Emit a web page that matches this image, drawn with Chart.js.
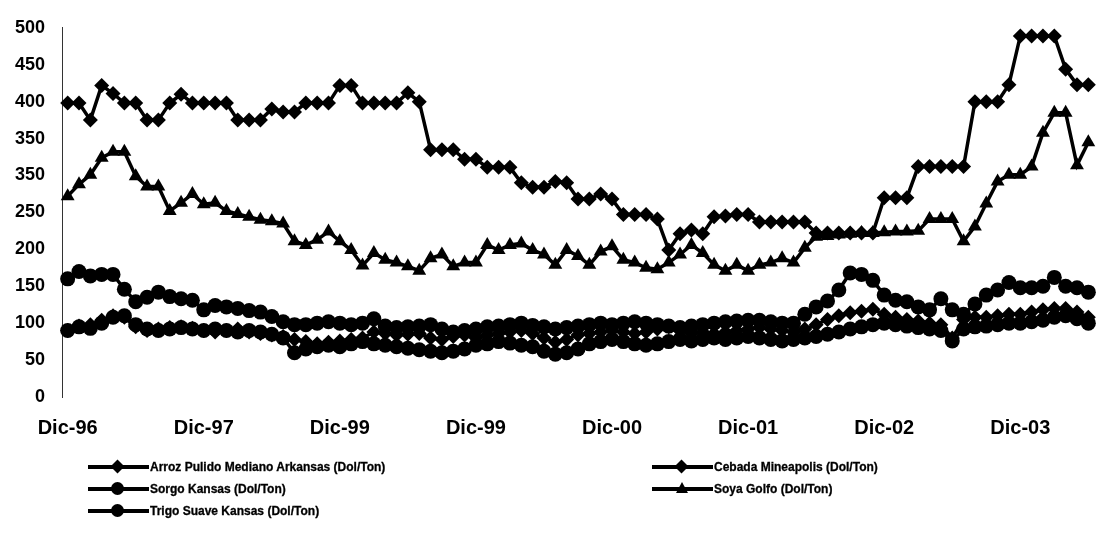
<!DOCTYPE html>
<html>
<head>
<meta charset="utf-8">
<script src="https://cdn.jsdelivr.net/npm/chart.js"></script>
<style>
body { margin: 0; background: #fff; }
.wrap { position: relative; width: 1102px; height: 534px; }
.legend { position: absolute; left: 88px; top: 456px; display: grid; grid-template-columns: 564px 420px;
  font: bold 12px "Liberation Sans", Arial, sans-serif; color: #000; -webkit-text-stroke: 0.3px #000; }
.item { display: flex; align-items: center; height: 22px; white-space: nowrap; }
.sym { position: relative; width: 61px; height: 14px; margin-right: 1px; flex: none; }
.sym .ln { position: absolute; left: 0; right: 0; top: 5px; height: 4px; background: #000; }
.sym .mk { position: absolute; left: 24px; top: 1px; width: 11px; height: 11px; background: #000; }
.mk.rectRot { transform: rotate(45deg) scale(0.9); }
.mk.circle { border-radius: 50%; width: 13px; height: 13px; top: 0; left: 23px; }
.mk.triangle { background: none; width: 0; height: 0; border-left: 6px solid transparent;
  border-right: 6px solid transparent; border-bottom: 11px solid #000; top: 0; }
</style>
</head>
<body>
<div class="wrap">
  <canvas id="grafico"></canvas>
  <div class="legend" id="leyenda"></div>
</div>
<script>
// etiquetas de los ejes
const xTickLabels = ['Dic-96', 'Dic-97', 'Dic-99', 'Dic-99', 'Dic-00', 'Dic-01', 'Dic-02', 'Dic-03'];
const yTickLabels = ['0', '50', '100', '150', '200', '250', '350', '350', '400', '450', '500'];
const meses = ['Ene', 'Feb', 'Mar', 'Abr', 'May', 'Jun', 'Jul', 'Ago', 'Sep', 'Oct', 'Nov', 'Dic'];

// meses de Dic-96 a Jun-04
const months = [];
for (let i = 0; i < 91; i++) {
  const m = (11 + i) % 12;
  const a = (96 + Math.floor((11 + i) / 12)) % 100;
  months.push(meses[m] + '-' + String(a).padStart(2, '0'));
}

// precios (Dol/Ton)
const arroz = [398, 398, 375, 422, 411, 398, 398, 375, 375, 398,
  410, 398, 398, 398, 398, 375, 375, 375, 390, 386,
  386, 398, 398, 398, 422, 422, 398, 398, 398, 398,
  412, 400, 335, 335, 335, 322, 322, 311, 311, 311,
  290, 284, 284, 292, 290, 268, 268, 275, 268, 247,
  247, 247, 241, 199, 221, 226, 221, 244, 245, 247,
  247, 237, 237, 237, 237, 237, 222, 222, 222, 222,
  222, 222, 270, 270, 270, 312, 312, 312, 312, 312,
  400, 400, 400, 423, 489, 489, 489, 489, 444, 423, 423];

const cebada = [90, 96, 98, 104, 110, 108, 95, 90, 92, 94,
  95, 93, 90, 88, 90, 92, 88, 86, 84, 82,
  78, 75, 72, 74, 76, 78, 80, 88, 86, 84,
  85, 86, 80, 78, 82, 84, 80, 84, 86, 88,
  90, 86, 80, 74, 78, 84, 86, 88, 90, 88,
  86, 88, 92, 95, 90, 86, 88, 86, 88, 90,
  92, 94, 92, 90, 88, 92, 98, 105, 110, 114,
  116, 119, 112, 108, 105, 103, 100, 98, 80, 105,
  108, 108, 110, 112, 112, 115, 118, 120, 120, 115, 108];

const sorgo = [90, 95, 93, 100, 108, 110, 98, 92, 90, 92,
  94, 92, 90, 92, 90, 88, 90, 88, 85, 80,
  60, 65, 68, 70, 68, 72, 75, 72, 70, 68,
  66, 64, 62, 60, 62, 65, 70, 72, 75, 73,
  70, 68, 62, 58, 60, 65, 72, 75, 78, 75,
  72, 70, 72, 75, 78, 76, 78, 80, 78, 80,
  82, 80, 78, 76, 78, 80, 82, 85, 88, 92,
  95, 98, 100, 98, 96, 94, 92, 90, 76, 92,
  95, 96, 98, 100, 100, 102, 104, 108, 110, 106, 100];

const soya = [272, 288, 301, 324, 332, 332, 299, 285, 285, 252,
  263, 275, 261, 263, 252, 248, 244, 240, 238, 235,
  211, 206, 213, 224, 211, 199, 178, 195, 186, 182,
  177, 171, 188, 193, 177, 182, 182, 206, 199, 206,
  208, 199, 193, 179, 199, 191, 179, 197, 204, 186,
  182, 175, 173, 182, 193, 206, 195, 179, 171, 179,
  171, 179, 182, 188, 182, 202, 217, 218, 220, 221,
  222, 222, 223, 224, 224, 225, 241, 241, 241, 211,
  231, 262, 292, 301, 301, 312, 358, 385, 385, 314, 345];

const trigo = [160, 170, 164, 166, 166, 146, 129, 135, 142, 136,
  133, 131, 118, 124, 122, 120, 117, 115, 109, 102,
  98, 98, 100, 102, 100, 98, 100, 106, 96, 94,
  95, 96, 98, 92, 88, 90, 92, 95, 96, 98,
  100, 97, 95, 92, 94, 96, 98, 100, 98, 100,
  102, 100, 98, 96, 94, 96, 98, 100, 102, 103,
  104, 104, 102, 100, 100, 112, 122, 130, 145, 168,
  166, 158, 138, 131, 129, 122, 118, 133, 118, 112,
  126, 138, 145, 155, 148, 148, 150, 162, 150, 148, 142];

const series = [
  { label: 'Arroz Pulido Mediano Arkansas (Dol/Ton)', data: arroz, punto: 'rectRot', r: 7.5 },
  { label: 'Cebada Mineapolis (Dol/Ton)', data: cebada, punto: 'rectRot', r: 7.5 },
  { label: 'Sorgo Kansas (Dol/Ton)', data: sorgo, punto: 'circle', r: 7.5 },
  { label: 'Soya Golfo (Dol/Ton)', data: soya, punto: 'triangle', r: 8 },
  { label: 'Trigo Suave Kansas (Dol/Ton)', data: trigo, punto: 'circle', r: 7.5 },
];

const ctx = document.getElementById('grafico').getContext('2d');
const chart = new Chart(ctx, {
  type: 'line',
  data: {
    labels: months,
    datasets: series.map(s => ({
      label: s.label,
      data: s.data,
      borderColor: '#000',
      backgroundColor: '#000',
      borderWidth: 3.5,
      pointStyle: s.punto,
      pointRadius: s.r,
      pointBorderWidth: 0,
      tension: 0,
    })),
  },
  options: {
    responsive: true,
    maintainAspectRatio: false,
    animation: false,
    layout: { padding: { top: 20, right: 1, left: 0, bottom: 0 } },
    plugins: {
      legend: { display: false },
      tooltip: { enabled: false },
    },
    scales: {
      x: {
        offset: true,
        grid: { display: false, drawTicks: false },
        border: { display: false },
        afterFit: (scale) => { scale.height = 137; },
        ticks: {
          autoSkip: false,
          maxRotation: 0,
          minRotation: 0,
          padding: 19,
          color: '#000',
          font: { family: 'Liberation Sans', size: 20, weight: 'bold' },
          callback: (value, index) => (index % 12 === 0 ? xTickLabels[index / 12] : null),
        },
      },
      y: {
        min: 0,
        max: 500,
        grid: { display: false, drawTicks: false },
        border: { display: true, color: '#333', width: 1, dash: [3, 5] },
        afterFit: (scale) => { scale.width = 62; },
        ticks: {
          stepSize: 50,
          padding: 17,
          color: '#000',
          font: { family: 'Liberation Sans', size: 18, weight: 'bold' },
          callback: (value) => yTickLabels[value / 50],
        },
      },
    },
  },
});

// leyenda en dos columnas
const leyenda = document.getElementById('leyenda');
series.forEach(s => {
  const item = document.createElement('div');
  item.className = 'item';
  item.innerHTML = '<span class="sym"><span class="ln"></span><span class="mk ' + s.punto + '"></span></span>' +
    '<span>' + s.label + '</span>';
  leyenda.appendChild(item);
});
</script>
</body>
</html>
